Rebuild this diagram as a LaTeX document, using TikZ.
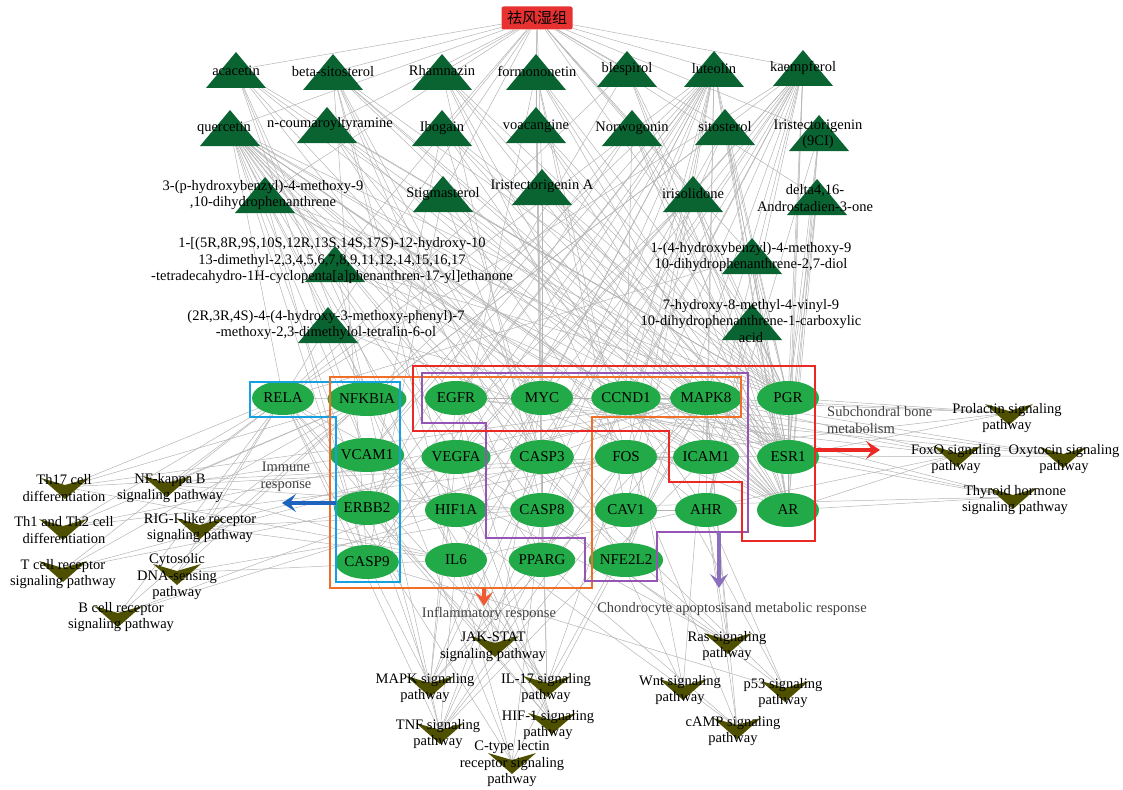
\documentclass[tikz,border=0pt]{standalone}
\usepackage{fontspec}
\setmainfont{Liberation Serif}
\newfontfamily\cjkfont{Noto Sans CJK SC}
\usetikzlibrary{shapes.geometric,arrows.meta,backgrounds}

\definecolor{cpdgreen}{RGB}{10,100,50}
\definecolor{tgtgreen}{RGB}{34,170,72}
\definecolor{pwolive}{RGB}{78,80,0}
\definecolor{hubred}{RGB}{232,50,50}
\definecolor{linkgray}{RGB}{180,180,180}
\definecolor{boxred}{RGB}{236,40,36}
\definecolor{boxorange}{RGB}{240,110,40}
\definecolor{boxpurple}{RGB}{150,85,180}
\definecolor{boxblue}{RGB}{20,160,225}
\definecolor{arrblue}{RGB}{30,100,190}
\definecolor{arrpurple}{RGB}{140,110,190}
\definecolor{arrorange}{RGB}{240,90,50}

\tikzset{
  compound/.pic={\fill[cpdgreen] (-30,18) -- (30,18) -- (0,-18) -- cycle;},
  pathway/.pic={\fill[pwolive] (-24,-9) -- (0,-2) -- (24,-9) -- (0,12) -- cycle;}
}

\begin{document}
\begin{tikzpicture}[x=1pt,y=-1pt]
  \tikzstyle{hub}=[fill=hubred, rounded corners=2pt, minimum width=71pt, minimum height=23pt, inner sep=0pt, font=\cjkfont\fontsize{15}{17}\selectfont]
  \tikzstyle{tgt}=[ellipse, fill=tgtgreen, minimum width=62pt, minimum height=34pt, inner sep=0pt, font=\fontsize{15}{17}\selectfont]
  \tikzstyle{lbl}=[align=center, inner sep=0pt, font=\fontsize{14.5}{16.5}\selectfont]
  \tikzstyle{note}=[lbl, text=black!75]
  \tikzstyle{link}=[linkgray, line width=0.5pt]
  \tikzstyle{module}=[line width=1.8pt, line join=miter]
  \tikzstyle{process}=[line width=3.4pt, -{Stealth[length=14pt,width=18pt,inset=6pt]}]

  \useasboundingbox (0,0) rectangle (1123,789);

  \node (hub) at (537,18) [hub] {祛风湿组};

  \path (236,70) coordinate (aca) pic {compound};
  \node (aca-l) at (236,71) [lbl] {acacetin};
  \path (333,72) coordinate (bsit) pic {compound};
  \node (bsit-l) at (333,72) [lbl] {beta-sitosterol};
  \path (442,72) coordinate (rham) pic {compound};
  \node (rham-l) at (442,71) [lbl] {Rhamnazin};
  \path (536,72) coordinate (formo) pic {compound};
  \node (formo-l) at (537,71) [lbl] {formononetin};
  \path (627,69) coordinate (bles) pic {compound};
  \node (bles-l) at (627,69) [lbl] {blespirol};
  \path (714,69) coordinate (lute) pic {compound};
  \node (lute-l) at (714,69) [lbl] {luteolin};
  \path (803,68) coordinate (kaem) pic {compound};
  \node (kaem-l) at (803,68) [lbl] {kaempferol};

  \path (230,128) coordinate (quer) pic {compound};
  \node (quer-l) at (224,128) [lbl] {quercetin};
  \path (327,125) coordinate (ncou) pic {compound};
  \node (ncou-l) at (330,124) [lbl] {n-coumaroyltyramine};
  \path (442,128) coordinate (ibog) pic {compound};
  \node (ibog-l) at (442,128) [lbl] {Ibogain};
  \path (536,125) coordinate (voac) pic {compound};
  \node (voac-l) at (536,126) [lbl] {voacangine};
  \path (632,128) coordinate (norw) pic {compound};
  \node (norw-l) at (632,128) [lbl] {Norwogonin};
  \path (725,127) coordinate (sito) pic {compound};
  \node (sito-l) at (725,127) [lbl] {sitosterol};
  \path (819,133) coordinate (iri9) pic {compound};
  \node (iri9-l) at (818,134) [lbl] {Iristectorigenin\\(9CI)};

  \path (265,195) coordinate (phb) pic {compound};
  \node (phb-l) at (263,195) [lbl] {3-(p-hydroxybenzyl)-4-methoxy-9\\,10-dihydrophenanthrene};
  \path (443,194) coordinate (stig) pic {compound};
  \node (stig-l) at (443,194) [lbl] {Stigmasterol};
  \path (542,187) coordinate (iriA) pic {compound};
  \node (iriA-l) at (542,186) [lbl] {Iristectorigenin A};
  \path (693,194) coordinate (iris) pic {compound};
  \node (iris-l) at (693,194) [lbl] {irisolidone};
  \path (817,197) coordinate (delta) pic {compound};
  \node (delta-l) at (815,198) [lbl] {delta4,16-\\Androstadien-3-one};

  \path (335,264) coordinate (cyclo) pic {compound};
  \node (cyclo-l) at (332,261) [lbl] {1-[(5R,8R,9S,10S,12R,13S,14S,17S)-12-hydroxy-10\\13-dimethyl-2,3,4,5,6,7,8,9,11,12,14,15,16,17\\-tetradecahydro-1H-cyclopenta[a]phenanthren-17-yl]ethanone};
  \path (752,256) coordinate (hbd) pic {compound};
  \node (hbd-l) at (751,257) [lbl] {1-(4-hydroxybenzyl)-4-methoxy-9\\10-dihydrophenanthrene-2,7-diol};

  \path (328,325) coordinate (tetra) pic {compound};
  \node (tetra-l) at (326,325) [lbl] {(2R,3R,4S)-4-(4-hydroxy-3-methoxy-phenyl)-7\\-methoxy-2,3-dimethylol-tetralin-6-ol};
  \path (752,322) coordinate (vinyl) pic {compound};
  \node (vinyl-l) at (751,321) [lbl] {7-hydroxy-8-methyl-4-vinyl-9\\10-dihydrophenanthrene-1-carboxylic\\acid};

  \node (RELA) at (283,398) [tgt] {RELA};
  \node (NFKBIA) at (367,399) [tgt] {NFKBIA};
  \node (VCAM1) at (367,455) [tgt] {VCAM1};
  \node (ERBB2) at (367,508) [tgt] {ERBB2};
  \node (CASP9) at (367,562) [tgt] {CASP9};
  \node (EGFR) at (456,398) [tgt] {EGFR};
  \node (MYC) at (542,398) [tgt] {MYC};
  \node (CCND1) at (626,398) [tgt] {CCND1};
  \node (MAPK8) at (706,398) [tgt] {MAPK8};
  \node (PGR) at (788,398) [tgt] {PGR};
  \node (VEGFA) at (456,457) [tgt] {VEGFA};
  \node (CASP3) at (542,457) [tgt] {CASP3};
  \node (FOS) at (626,457) [tgt] {FOS};
  \node (ICAM1) at (706,457) [tgt] {ICAM1};
  \node (ESR1) at (788,457) [tgt] {ESR1};
  \node (HIF1A) at (456,510) [tgt] {HIF1A};
  \node (CASP8) at (542,510) [tgt] {CASP8};
  \node (CAV1) at (626,510) [tgt] {CAV1};
  \node (AHR) at (706,510) [tgt] {AHR};
  \node (AR) at (788,510) [tgt] {AR};
  \node (IL6) at (456,560) [tgt] {IL6};
  \node (PPARG) at (542,560) [tgt] {PPARG};
  \node (NFE2L2) at (626,560) [tgt] {NFE2L2};

  \path (65,487) coordinate (th17) pic {pathway};
  \node (th17-l) at (64,488) [lbl] {Th17 cell\\differentiation};
  \path (167,485) coordinate (nfkb) pic {pathway};
  \node (nfkb-l) at (170,488) [lbl] {NF-kappa B\\signaling pathway};
  \path (63,528) coordinate (th12) pic {pathway};
  \node (th12-l) at (64,530) [lbl] {Th1 and Th2 cell\\differentiation};
  \path (200,527) coordinate (rig) pic {pathway};
  \node (rig-l) at (200,528) [lbl] {RIG-I-like receptor\\signaling pathway};
  \path (63,570) coordinate (tcell) pic {pathway};
  \node (tcell-l) at (63,574) [lbl] {T cell receptor\\signaling pathway};
  \path (177,573) coordinate (cyto) pic {pathway};
  \node (cyto-l) at (177,577) [lbl] {Cytosolic\\DNA-sensing\\pathway};
  \path (118,615) coordinate (bcell) pic {pathway};
  \node (bcell-l) at (121,617) [lbl] {B cell receptor\\signaling pathway};

  \path (1009,413) coordinate (prl) pic {pathway};
  \node (prl-l) at (1007,418) [lbl] {Prolactin signaling\\pathway};
  \path (957,455) coordinate (foxo) pic {pathway};
  \node (foxo-l) at (956,459) [lbl] {FoxO signaling\\pathway};
  \path (1063,456) coordinate (oxy) pic {pathway};
  \node (oxy-l) at (1064,459) [lbl] {Oxytocin signaling\\pathway};
  \path (1013,497) coordinate (thy) pic {pathway};
  \node (thy-l) at (1015,500) [lbl] {Thyroid hormone\\signaling pathway};

  \path (495,645) coordinate (jak) pic {pathway};
  \node (jak-l) at (493,647) [lbl] {JAK-STAT\\signaling pathway};
  \path (430,685) coordinate (mapk) pic {pathway};
  \node (mapk-l) at (425,688) [lbl] {MAPK signaling\\pathway};
  \path (547,685) coordinate (il17) pic {pathway};
  \node (il17-l) at (546,688) [lbl] {IL-17 signaling\\pathway};
  \path (440,732) coordinate (tnf) pic {pathway};
  \node (tnf-l) at (438,734) [lbl] {TNF signaling\\pathway};
  \path (552,722) coordinate (hif) pic {pathway};
  \node (hif-l) at (548,725) [lbl] {HIF-1 signaling\\pathway};
  \path (512,762) coordinate (ctype) pic {pathway};
  \node (ctype-l) at (512,764) [lbl] {C-type lectin\\receptor signaling\\pathway};

  \path (728,642) coordinate (ras) pic {pathway};
  \node (ras-l) at (727,646) [lbl] {Ras signaling\\pathway};
  \path (683,688) coordinate (wnt) pic {pathway};
  \node (wnt-l) at (680,690) [lbl] {Wnt signaling\\pathway};
  \path (785,690) coordinate (p53) pic {pathway};
  \node (p53-l) at (783,693) [lbl] {p53 signaling\\pathway};
  \path (737,727) coordinate (camp) pic {pathway};
  \node (camp-l) at (733,731) [lbl] {cAMP signaling\\pathway};

  \begin{pgfonlayer}{background}
    \foreach \c in {aca,bsit,rham,formo,bles,lute,kaem,quer,ncou,ibog,voac,norw,sito,iri9,phb,stig,iriA,iris,delta,cyclo,hbd,tetra,vinyl}
      \draw[link] (hub) -- (\c);

    \foreach \t in {RELA,NFKBIA,VCAM1,ERBB2,CASP9,EGFR,MYC,CCND1,MAPK8,VEGFA,CASP3,FOS,ICAM1,HIF1A,CASP8,CAV1,AHR,IL6,PPARG,NFE2L2,ESR1,AR,PGR}
      \draw[link] (quer) -- (\t);
    \foreach \t in {RELA,NFKBIA,VCAM1,ERBB2,CASP9,EGFR,MYC,CCND1,VEGFA,CASP3,FOS,ICAM1,HIF1A,CASP8,AHR,IL6,NFE2L2,ESR1,AR,PGR,CAV1}
      \draw[link] (lute) -- (\t);
    \foreach \t in {RELA,NFKBIA,CASP9,CCND1,MAPK8,VEGFA,CASP3,FOS,ICAM1,HIF1A,CASP8,AHR,IL6,PPARG,ESR1,AR,PGR,NFE2L2}
      \draw[link] (kaem) -- (\t);
    \foreach \t in {NFKBIA,CASP3,PGR,ESR1,AR,VCAM1,MYC,IL6}
      \draw[link] (aca) -- (\t);
    \foreach \t in {CASP9,CASP3,CASP8,MAPK8,PPARG,PGR,ESR1,AR,HIF1A,IL6}
      \draw[link] (bsit) -- (\t);
    \foreach \t in {CCND1,PGR,ESR1,AR,CASP8,FOS}
      \draw[link] (rham) -- (\t);
    \foreach \t in {VEGFA,CASP3,FOS,PPARG,PGR,ESR1,AR,MYC,CAV1}
      \draw[link] (formo) -- (\t);
    \foreach \t in {PGR,ESR1,AR,RELA,ERBB2}
      \draw[link] (bles) -- (\t);
    \foreach \t in {PGR,ESR1,AR,MYC,CASP3}
      \draw[link] (ncou) -- (\t);
    \foreach \t in {CASP3,PGR,ESR1,AR,ERBB2,AHR}
      \draw[link] (ibog) -- (\t);
    \foreach \t in {PGR,ESR1,AR,CASP8}
      \draw[link] (voac) -- (\t);
    \foreach \t in {CCND1,PGR,ESR1,AR,VCAM1,EGFR}
      \draw[link] (norw) -- (\t);
    \foreach \t in {CASP3,PGR,ESR1,AR,NFKBIA,PPARG}
      \draw[link] (sito) -- (\t);
    \foreach \t in {PGR,ESR1,AR,AHR}
      \draw[link] (iri9) -- (\t);
    \foreach \t in {ICAM1,PGR,ESR1,AR,CASP9}
      \draw[link] (phb) -- (\t);
    \foreach \t in {CASP3,PGR,ESR1,AR,CASP9,FOS}
      \draw[link] (stig) -- (\t);
    \foreach \t in {PGR,ESR1,AR,MYC}
      \draw[link] (iriA) -- (\t);
    \foreach \t in {PGR,ESR1,AR,ERBB2}
      \draw[link] (iris) -- (\t);
    \foreach \t in {PGR,ESR1,AR}
      \draw[link] (delta) -- (\t);
    \foreach \t in {PGR,ESR1,AR,NFKBIA}
      \draw[link] (cyclo) -- (\t);
    \foreach \t in {PGR,ESR1,AR,RELA}
      \draw[link] (hbd) -- (\t);
    \foreach \t in {ESR1,AR,RELA}
      \draw[link] (tetra) -- (\t);
    \foreach \t in {PGR,ESR1,AR,AHR}
      \draw[link] (vinyl) -- (\t);

    \foreach \t in {RELA,NFKBIA,IL6,MAPK8,FOS}
      \draw[link] (th17) -- (\t);
    \foreach \t in {RELA,NFKBIA,VCAM1,ICAM1,CASP8,IL6}
      \draw[link] (nfkb) -- (\t);
    \foreach \t in {RELA,NFKBIA,MAPK8,FOS}
      \draw[link] (th12) -- (\t);
    \foreach \t in {RELA,NFKBIA,MAPK8,CASP8,IL6}
      \draw[link] (rig) -- (\t);
    \foreach \t in {RELA,NFKBIA,MAPK8,FOS}
      \draw[link] (tcell) -- (\t);
    \foreach \t in {RELA,NFKBIA,CASP8,IL6}
      \draw[link] (cyto) -- (\t);
    \foreach \t in {RELA,NFKBIA,FOS,MAPK8}
      \draw[link] (bcell) -- (\t);

    \foreach \t in {ESR1,PGR,CCND1,FOS,MAPK8}
      \draw[link] (prl) -- (\t);
    \foreach \t in {CCND1,EGFR,MAPK8,IL6,AR}
      \draw[link] (foxo) -- (\t);
    \foreach \t in {CCND1,FOS,EGFR,MAPK8}
      \draw[link] (oxy) -- (\t);
    \foreach \t in {ESR1,CCND1,MYC,HIF1A,AR}
      \draw[link] (thy) -- (\t);

    \foreach \t in {EGFR,MYC,CCND1,IL6,ERBB2}
      \draw[link] (jak) -- (\t);
    \foreach \t in {EGFR,FOS,MYC,MAPK8,CASP3,RELA,VEGFA,ERBB2}
      \draw[link] (mapk) -- (\t);
    \foreach \t in {MAPK8,FOS,CASP3,CASP8,IL6,RELA,NFKBIA}
      \draw[link] (il17) -- (\t);
    \foreach \t in {MAPK8,FOS,CASP3,CASP8,ICAM1,IL6,VCAM1,RELA,NFKBIA}
      \draw[link] (tnf) -- (\t);
    \foreach \t in {EGFR,VEGFA,HIF1A,IL6,RELA,ERBB2}
      \draw[link] (hif) -- (\t);
    \foreach \t in {MAPK8,IL6,RELA,NFKBIA,CASP8}
      \draw[link] (ctype) -- (\t);

    \foreach \t in {EGFR,VEGFA,MAPK8,RELA,AHR}
      \draw[link] (ras) -- (\t);
    \foreach \t in {CCND1,MYC,MAPK8}
      \draw[link] (wnt) -- (\t);
    \foreach \t in {CCND1,CASP3,CASP8,CASP9,AHR}
      \draw[link] (p53) -- (\t);
    \foreach \t in {FOS,MAPK8,RELA,PPARG,AHR}
      \draw[link] (camp) -- (\t);

    \draw[link] (RELA) -- (NFKBIA);
    \draw[link] (EGFR) -- (MYC);
    \draw[link] (MYC) -- (CCND1);
    \draw[link] (CCND1) -- (MAPK8);
    \draw[link] (FOS) -- (ICAM1);
    \draw[link] (CAV1) -- (AHR);
    \draw[link] (CASP3) -- (CASP8);
    \draw[link] (CASP8) -- (PPARG);
    \draw[link] (ESR1) -- (AR);
    \draw[link] (PGR) -- (ESR1);
  \end{pgfonlayer}

  \draw[module, boxblue] (250,382) -- (400,382) -- (400,582) -- (336,582) -- (336,417) -- (250,417) -- cycle;
  \draw[module, boxorange] (330,377) -- (741,377) -- (741,417) -- (592,417) -- (592,588) -- (330,588) -- cycle;
  \draw[module, boxpurple] (422,373) -- (748,373) -- (748,532) -- (657,532) -- (657,581) -- (585,581) -- (585,538) -- (486,538) -- (486,423) -- (422,423) -- cycle;
  \draw[module, boxred] (413,366) -- (815,366) -- (815,541) -- (742,541) -- (742,482) -- (669,482) -- (669,431) -- (413,431) -- cycle;

  \coordinate (immune-s) at (336,503);
  \coordinate (immune-e) at (282,503);
  \coordinate (inflam-s) at (484,588);
  \coordinate (inflam-e) at (484,606);
  \coordinate (chondro-s) at (719,532);
  \coordinate (chondro-e) at (719,588);
  \coordinate (bone-s) at (815,450);
  \coordinate (bone-e) at (880,450);

  \draw[process, arrblue] (immune-s) -- (immune-e);
  \draw[process, arrorange] (inflam-s) -- (inflam-e);
  \draw[process, arrpurple] (chondro-s) -- (chondro-e);
  \draw[process, boxred] (bone-s) -- (bone-e);

  \node (immune) at (286,477) [note] {Immune\\response};
  \node (inflam) at (489,614) [note] {Inflammatory response};
  \node (chondro) at (732,609) [note] {Chondrocyte apoptosisand metabolic response};
  \node (bone) at (827,420) [note, anchor=west, align=left] {Subchondral bone\\metabolism};
\end{tikzpicture}
\end{document}
